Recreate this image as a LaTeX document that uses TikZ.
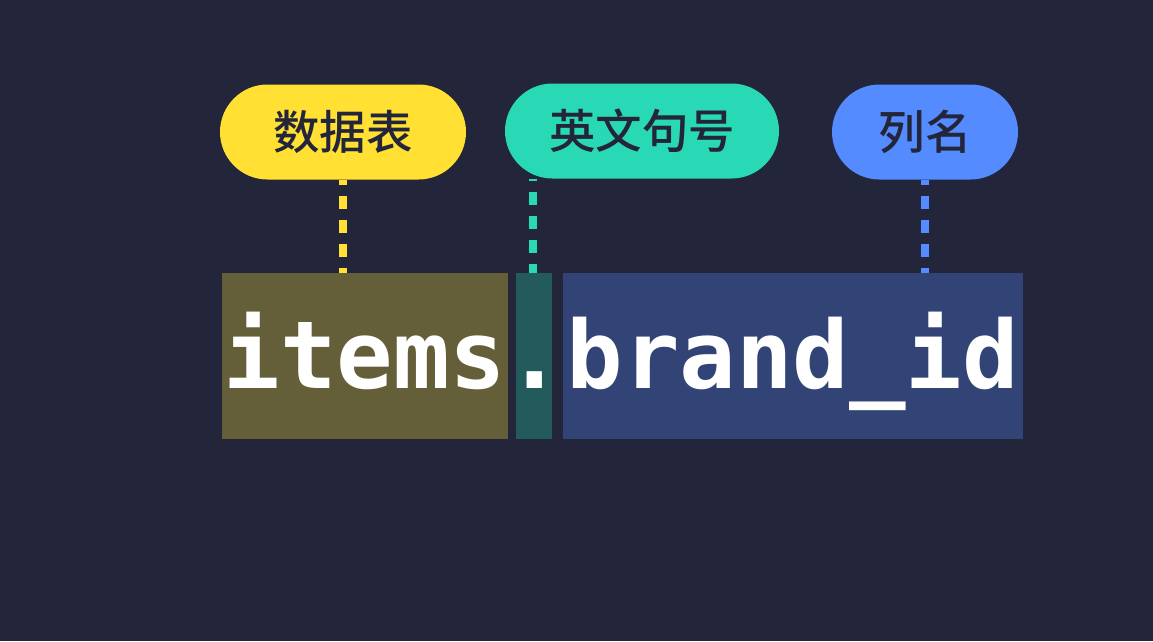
\documentclass[tikz,border=0pt]{standalone}
\usepackage{fontspec}
\setmonofont{DejaVu Sans Mono}
\newfontfamily\cjk{Noto Sans CJK SC Medium}
\usepackage{tikz}
\usetikzlibrary{positioning}
\definecolor{bgdark}{HTML}{23253A}
\definecolor{ylw}{HTML}{FFE033}
\definecolor{grn}{HTML}{29D9B5}
\definecolor{blu}{HTML}{548CFF}
\definecolor{olv}{HTML}{655F39}
\definecolor{tel}{HTML}{235B5C}
\definecolor{nvy}{HTML}{324476}
\tikzset{
  pill/.style={rounded corners=47.5pt,minimum height=95pt,inner sep=0pt,text=bgdark,font=\cjk\fontsize{46.5}{46.5}\selectfont},
  seg/.style={minimum height=166pt,inner sep=0pt,text=white,text height=68pt,text depth=4pt,font=\ttfamily\bfseries\fontsize{94}{94}\selectfont},
  dsh/.style={draw=#1,line width=8pt,dash pattern=on 13pt off 11pt,dash phase=8pt},
}
\begin{document}
\begin{tikzpicture}[x=1pt,y=1pt,node distance=8pt]
  \fill[bgdark] (0,0) rectangle (1153,-641);
  \useasboundingbox (0,0) rectangle (1153,-641);
  \node[seg,fill=olv,minimum width=286pt] at (365,-356) (itm) {items};
  \node[seg,fill=tel,minimum width=36pt,right=of itm] (dot) {\makebox[0pt]{.}};
  \node[seg,fill=nvy,minimum width=460pt,right=10pt of dot] (col) {brand\_id};
  \node[pill,fill=ylw,minimum width=246pt] at (343,-132) (tbl) {数据表};
  \node[pill,fill=grn,minimum width=274pt] at (642,-131) (prd) {英文句号};
  \node[pill,fill=blu,minimum width=186pt] at (925,-132) (cnm) {列名};
  \draw[dsh=ylw] (tbl.south) -- (tbl.south |- itm.north);
  \draw[dsh=grn,dash phase=11pt] ([xshift=-1pt]dot.north |- prd.south) -- ([xshift=-1pt]dot.north);
  \draw[dsh=blu] (cnm.south) -- (cnm.south |- col.north);
\end{tikzpicture}
\end{document}
